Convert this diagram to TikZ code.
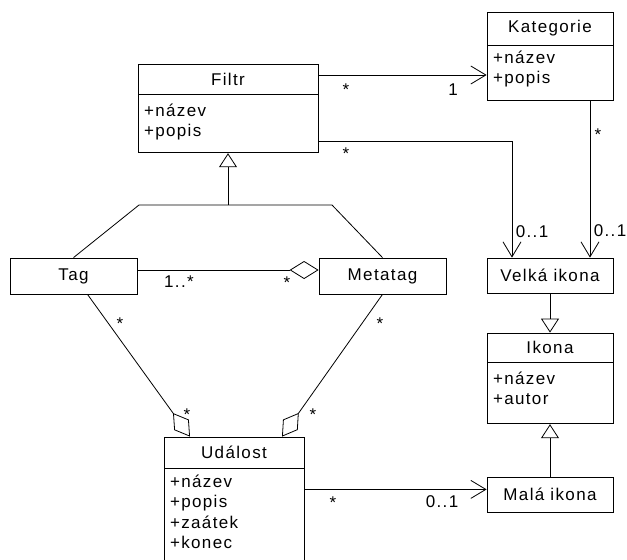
\documentclass[tikz,border=0pt]{standalone}
\usepackage{fontspec}
\setmainfont{Liberation Sans}[LetterSpace=8]
\usetikzlibrary{arrows.meta}

\tikzset{
  cls/.style={draw, inner sep=0pt, minimum width=126pt},
  attrs/.style={anchor=north west, align=left, inner xsep=6pt, inner ysep=6pt},
  nav/.style={-{Straight Barb[length=15pt,width=18pt]}},
  gen/.style={-{Triangle[open,length=14pt,width=18pt]}},
  agg/.style={-{Diamond[open,length=29pt,width=18pt]}},
  lbl/.style={anchor=base, inner sep=0pt}
}

\begin{document}
\begin{tikzpicture}[x=1pt, y=-1pt, line width=0.8pt,
    font=\fontsize{17}{20.5}\selectfont]
    \useasboundingbox (0,0) rectangle (627,560);

    % classes with attributes
    \node[cls, minimum width=180pt, minimum height=30pt] (filtr) at (228,79) {Filtr};
    \node[cls, minimum width=180pt, minimum height=58pt, anchor=north] (filtrB) at (filtr.south) {};
    \node[attrs, inner ysep=9pt] (filtrA) at (filtrB.north west) {+název\\+popis};

    \node[cls, minimum height=33pt] (kat) at (550,28.5) {Kategorie};
    \node[cls, minimum height=55pt, anchor=north] (katB) at (kat.south) {};
    \node[attrs, inner ysep=5pt] (katA) at (katB.north west) {+název\\+popis};

    \node[cls, minimum height=29pt] (ikona) at (550,347.5) {Ikona};
    \node[cls, minimum height=61pt, anchor=north] (ikonaB) at (ikona.south) {};
    \node[attrs, inner ysep=9pt] (ikonaA) at (ikonaB.north west) {+název\\+autor};

    \node[cls, minimum width=140pt, minimum height=31pt] (udalost) at (234,452.5) {Událost};
    \node[cls, minimum width=140pt, minimum height=130pt, anchor=north] (udalostB) at (udalost.south) {};
    \node[attrs] (udalostA) at (udalostB.north west) {+název\\+popis\\+zaátek\\+konec};

    % plain classes
    \node[cls, minimum width=127pt, minimum height=36pt] (tag) at (73.5,276) {Tag};
    \node[cls, minimum width=127pt, minimum height=36pt] (metatag) at (382.5,276) {Metatag};
    \node[cls, minimum height=35pt] (velka) at (550,275.5) {Velká ikona};
    \node[cls, minimum height=35pt] (mala) at (550,494.5) {Malá ikona};

    % generalisation
    \coordinate (tl) at (139,205);
    \coordinate (tr) at (332,205);
    \draw (tag.north) -- (tl) -- (tr) -- (metatag.north);
    \draw[gen] (filtrB.south |- tl) -- (filtrB.south);
    \draw[gen] (velka.south) -- (ikona.north);
    \draw[gen] (mala.north) -- (ikonaB.south);

    % associations
    \coordinate (f1) at ([yshift=4pt]filtr.east);
    \draw[nav] (f1) -- (f1 -| katB.west);
    \coordinate (f2) at ([yshift=-18pt]filtrB.east);
    \draw[nav] (f2) -| ([xshift=-38pt]velka.north);
    \draw[nav] ([xshift=40pt]katB.south) -- ([xshift=40pt]velka.north);
    \coordinate (u1) at ([yshift=-21pt]udalostB.north east);
    \draw[nav] (u1) -- (u1 -| mala.west);

    % aggregations
    \draw[agg] ([yshift=6pt]tag.east) -- ([yshift=6pt]metatag.west);
    \draw[agg] ([xshift=14pt]tag.south) -- ([xshift=-44pt]udalost.north);
    \draw[agg] (metatag.south) -- ([xshift=48pt]udalost.north);

    % multiplicities
    \node[lbl] (m1) at (346,95) {*};
    \node[lbl] (m2) at (453,95) {1};
    \node[lbl] (m3) at (346,159) {*};
    \node[lbl] (m4) at (532,237) {0..1};
    \node[lbl] (m5) at (598,140) {*};
    \node[lbl] (m6) at (610,236) {0..1};
    \node[lbl] (m7) at (179,287) {1..*};
    \node[lbl] (m8) at (287,288) {*};
    \node[lbl] (m9) at (120,329) {*};
    \node[lbl] (m10) at (187,420) {*};
    \node[lbl] (m11) at (380,329) {*};
    \node[lbl] (m12) at (313,420) {*};
    \node[lbl] (m13) at (333,508) {*};
    \node[lbl] (m14) at (442,507) {0..1};
\end{tikzpicture}
\end{document}
